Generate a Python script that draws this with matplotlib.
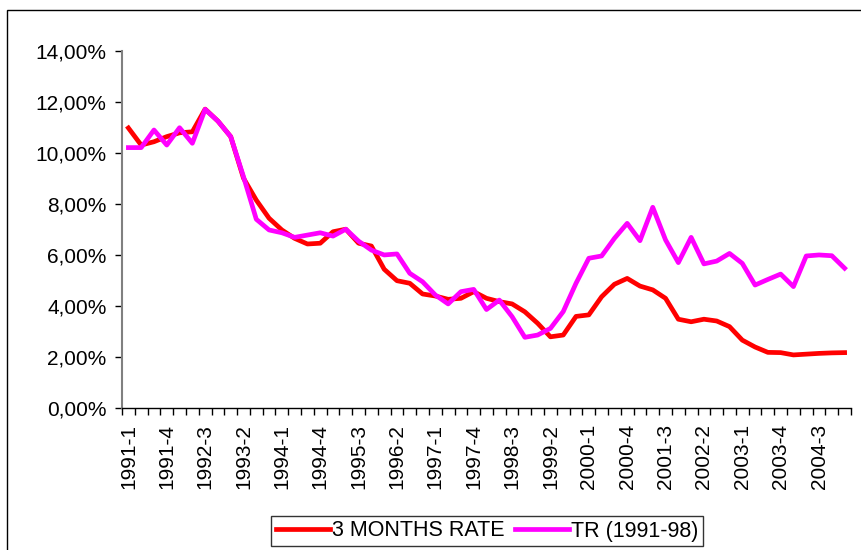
import matplotlib
matplotlib.use("Agg")
import matplotlib.pyplot as plt
from matplotlib.ticker import FixedLocator, FuncFormatter
from matplotlib.patches import Rectangle

plt.rcParams['font.family'] = ['Liberation Sans', 'DejaVu Sans']

quarters = [f"{y}-{q}" for y in range(1991, 2006) for q in range(1, 5)][:57]

rate_3m = [10.97, 10.30, 10.43, 10.63, 10.78, 10.82, 11.71, 11.24, 10.63, 9.00,
           8.14, 7.43, 6.97, 6.64, 6.42, 6.45, 6.90, 7.00, 6.45, 6.34,
           5.43, 4.98, 4.88, 4.46, 4.38, 4.25, 4.29, 4.55, 4.29, 4.16,
           4.07, 3.76, 3.31, 2.78, 2.85, 3.58, 3.64, 4.35, 4.84, 5.07,
           4.77, 4.62, 4.29, 3.47, 3.37, 3.47, 3.40, 3.18, 2.65, 2.38,
           2.17, 2.16, 2.07, 2.10, 2.13, 2.15, 2.16]

tr_9198 = [10.20, 10.20, 10.89, 10.30, 10.98, 10.37, 11.70, 11.24, 10.63, 9.06,
           7.39, 6.97, 6.86, 6.68, 6.77, 6.86, 6.73, 7.00, 6.53, 6.18,
           5.99, 6.03, 5.27, 4.94, 4.42, 4.07, 4.55, 4.64, 3.85, 4.22,
           3.57, 2.76, 2.85, 3.11, 3.77, 4.88, 5.86, 5.95, 6.64, 7.23,
           6.55, 7.86, 6.58, 5.69, 6.68, 5.64, 5.75, 6.05, 5.66, 4.81,
           5.03, 5.24, 4.75, 5.95, 5.99, 5.96, 5.47]

W, H = 861, 550
FS = 15
fig = plt.figure(figsize=(W / 100, H / 100), dpi=100)
ax = fig.add_axes([122 / W, 1 - 407.7 / H, (851 - 122) / W, (407.7 - 50.7) / H])

x = list(range(len(quarters)))
l1, = ax.plot(x, rate_3m, color='#FF0000', lw=3.4, solid_joinstyle='round',
              label='3 MONTHS RATE', zorder=2)
l2, = ax.plot(x, tr_9198, color='#FF00FF', lw=3.4, solid_joinstyle='round',
              label='TR (1991-98)', zorder=3)

ax.set_xlim(-0.5, len(quarters) - 0.5)
ax.set_ylim(0, 14)

ax.yaxis.set_major_locator(FixedLocator([0, 2, 4, 6, 8, 10, 12, 14]))
ax.yaxis.set_major_formatter(FuncFormatter(lambda v, p: f"{v:.2f}".replace('.', ',') + '%'))
ax.tick_params(axis='y', direction='out', length=5, width=1, color='black',
               labelsize=FS, pad=6)

# major ticks at category boundaries (no labels), minor ticks at centers with labels
ax.xaxis.set_major_locator(FixedLocator([i - 0.5 for i in range(len(quarters) + 1)]))
ax.xaxis.set_major_formatter(FuncFormatter(lambda v, p: ''))
lab_idx = list(range(0, len(quarters), 3))
ax.xaxis.set_minor_locator(FixedLocator(lab_idx))
ax.set_xticklabels([quarters[i] for i in lab_idx], minor=True, rotation=90)
ax.tick_params(axis='x', which='major', direction='out', length=5, width=1, color='black')
ax.tick_params(axis='x', which='minor', length=0, labelsize=FS, pad=11.5)

for s in ['top', 'right']:
    ax.spines[s].set_visible(False)
ax.spines['left'].set_color('#808080')
ax.spines['left'].set_linewidth(1.5)
ax.spines['bottom'].set_color('black')
ax.spines['bottom'].set_linewidth(1)

# outer chart border
fig.patches.append(Rectangle((7 / W, -0.1), 1.2, 1.1 - 10 / H, transform=fig.transFigure,
                             fill=False, edgecolor='black', lw=1, clip_on=False))

leg = fig.legend(handles=[l1, l2], loc='center', bbox_to_anchor=(487 / W, 1 - 531 / H),
                 ncol=2, fontsize=FS + 0.5, frameon=True, fancybox=False, edgecolor='black',
                 handlelength=2.5, handletextpad=0.1, columnspacing=0.5,
                 borderpad=0.2, borderaxespad=0)
leg.get_frame().set_linewidth(1)

fig.savefig('out.png', dpi=100)
